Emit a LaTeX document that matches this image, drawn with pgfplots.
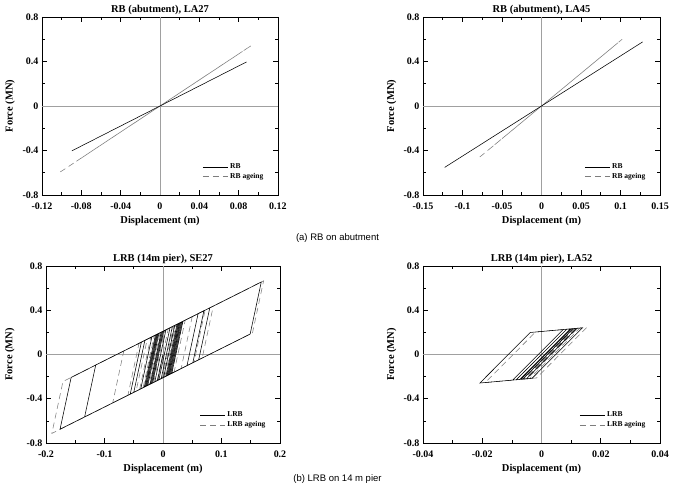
\documentclass[border=0pt]{standalone}
\usepackage{pgfplots}
\pgfplotsset{compat=1.18}
\usepackage{fontspec}
\setmainfont{Liberation Serif}
\newfontfamily\capfont{Liberation Sans}
\definecolor{ageing}{RGB}{125,125,125}
\definecolor{zeroline}{RGB}{160,160,160}

\pgfplotsset{
  base/.style={
    scale only axis,
    anchor=south west,
    axis line style={line width=0.8pt},
    tick align=inside,
    xtick pos=both, ytick pos=both,
    xticklabel pos=bottom, yticklabel pos=left,
    major tick length=5pt, minor tick length=3pt,
    every tick/.style={black, line width=0.6pt},
    minor x tick num=1, minor y tick num=1,
    scaled x ticks=false, scaled y ticks=false,
    ymin=-0.8, ymax=0.8,
    ytick={-0.8,-0.4,0,0.4,0.8},
    yticklabels={-0.8,-0.4,0,0.4,0.8},
    /pgf/number format/assume math mode=true,
    tick label style={font=\bfseries\fontsize{10}{12}\selectfont},
    xticklabel style={yshift=-4pt},
    label style={font=\bfseries\fontsize{10.5}{12}\selectfont},
    xlabel={Displacement (m)},
    ylabel={Force (MN)},
    xlabel style={at={(axis description cs:0.5,-0.145)}, anchor=center},
    title style={at={(axis description cs:0.5,1.05)}, anchor=center, yshift=-8pt, font=\bfseries\fontsize{10.5}{12}\selectfont},
    legend style={draw=none, fill=none, font=\bfseries\fontsize{7.5}{9}\selectfont,
      at={(0.96,0.06)}, anchor=south east, row sep=-1pt},
    legend cell align=left,
    legend image code/.code={\draw[#1] (0pt,0pt) -- (25pt,0pt);},
    clip=true,
  },
  curve/.style={black, line width=0.55pt},
  agecurve/.style={ageing, line width=0.55pt, dash pattern=on 6pt off 4pt},
}

\begin{document}
\begin{tikzpicture}[x=1pt,y=1pt]
\path[use as bounding box] (0,0) rectangle (675,486);

% ---------------- (a) RB, LA27
\begin{axis}[base, at={(42pt,291pt)}, width=236pt, height=178pt,
  xmin=-0.12, xmax=0.12,
  xtick={-0.12,-0.08,-0.04,0,0.04,0.08,0.12},
  xticklabels={-0.12,-0.08,-0.04,0,0.04,0.08,0.12},
  ylabel style={at={(axis description cs:-0.135,0.5)}, anchor=center},
  title={RB (abutment), LA27}]
\addplot[zeroline, line width=0.6pt, forget plot] coordinates {(0,-0.8) (0,0.8)};
\addplot[zeroline, line width=0.6pt, forget plot] coordinates {(-0.12,0) (0.12,0)};
\addlegendimage{curve}\addlegendentry{RB}
\addlegendimage{agecurve}\addlegendentry{RB ageing}
\addplot[agecurve, forget plot] coordinates {(-0.1014,-0.593) (0.093,0.544) (-0.06,-0.351) (0.07,0.410) (-0.085,-0.497) (0.05,0.293) (-0.03,-0.176) (0.08,0.468)};
\addplot[curve, forget plot] coordinates {(-0.0896,-0.403) (0.088,0.396) (-0.05,-0.225) (0.06,0.27)};
\end{axis}

% ---------------- (a) RB, LA45
\begin{axis}[base, at={(423pt,291pt)}, width=237pt, height=178pt,
  xmin=-0.15, xmax=0.15,
  xtick={-0.15,-0.1,-0.05,0,0.05,0.1,0.15},
  xticklabels={-0.15,-0.1,-0.05,0,0.05,0.1,0.15},
  ylabel style={at={(axis description cs:-0.132,0.5)}, anchor=center},
  title={RB (abutment), LA45}]
\addplot[zeroline, line width=0.6pt, forget plot] coordinates {(0,-0.8) (0,0.8)};
\addplot[zeroline, line width=0.6pt, forget plot] coordinates {(-0.15,0) (0.15,0)};
\addlegendimage{curve}\addlegendentry{RB}
\addlegendimage{agecurve}\addlegendentry{RB ageing}
\addplot[agecurve, forget plot] coordinates {(-0.078,-0.458) (0.102,0.599) (-0.05,-0.294) (0.07,0.411) (-0.065,-0.382) (0.09,0.528) (-0.03,-0.176) (0.06,0.352)};
\addplot[curve, forget plot] coordinates {(-0.1226,-0.552) (0.128,0.576) (-0.07,-0.315) (0.09,0.405)};
\end{axis}

% ---------------- (b) LRB, SE27
\begin{axis}[base, at={(46pt,43pt)}, width=234pt, height=177pt,
  xmin=-0.2, xmax=0.2,
  xtick={-0.2,-0.1,0,0.1,0.2},
  xticklabels={-0.2,-0.1,0,0.1,0.2},
  ylabel style={at={(axis description cs:-0.154,0.5)}, anchor=center},
  title={LRB (14m pier), SE27}]
\addplot[zeroline, line width=0.6pt, forget plot] coordinates {(0,-0.8) (0,0.8)};
\addplot[zeroline, line width=0.6pt, forget plot] coordinates {(-0.2,0) (0.2,0)};
\addlegendimage{curve}\addlegendentry{LRB}
\addlegendimage{agecurve}\addlegendentry{LRB ageing}
\addplot[agecurve, forget plot] coordinates {(0,0) (-0.0094,-0.235) (-0.190,-0.714) (-0.171,-0.244) (0.172,0.666) (0.153,0.196) (-0.086,-0.438) (-0.067,0.032) (0.086,0.438) (0.067,-0.032) (-0.060,-0.369) (-0.041,0.101) (0.072,0.401) (0.053,-0.069) (-0.046,-0.332) (-0.027,0.138) (0.050,0.343) (0.031,-0.127) (-0.040,-0.316) (-0.021,0.154) (0.038,0.311) (0.019,-0.159) (-0.034,-0.300) (-0.015,0.170) (0.030,0.290) (0.011,-0.180) (-0.028,-0.284) (-0.009,0.186) (0.034,0.300) (0.015,-0.170) (-0.022,-0.268) (-0.003,0.202) (0.026,0.279) (0.007,-0.191) (-0.030,-0.290) (-0.011,0.180) (0.022,0.268) (0.003,-0.202) (-0.016,-0.252) (0.003,0.217) (0.028,0.284) (0.009,-0.186) (-0.024,-0.274) (-0.005,0.196) (0.018,0.258) (-0.001,-0.212) (-0.010,-0.237) (0.009,0.233) (0.020,0.263) (0.001,-0.207) (-0.018,-0.258) (0.001,0.212) (0.016,0.252)};
\addplot[curve, forget plot] coordinates {(0,0) (-0.0094,-0.235) (-0.176,-0.676) (-0.157,-0.207) (0.168,0.655) (0.149,0.185) (-0.134,-0.565) (-0.115,-0.095) (0.080,0.422) (0.061,-0.048) (-0.056,-0.358) (-0.037,0.111) (0.070,0.396) (0.051,-0.074) (-0.050,-0.343) (-0.031,0.127) (0.060,0.369) (0.041,-0.101) (-0.038,-0.311) (-0.019,0.159) (0.034,0.300) (0.015,-0.170) (-0.030,-0.290) (-0.011,0.180) (0.028,0.284) (0.009,-0.186) (-0.026,-0.279) (-0.007,0.191) (0.032,0.295) (0.013,-0.175) (-0.032,-0.295) (-0.013,0.175) (0.024,0.274) (0.005,-0.196) (-0.022,-0.268) (-0.003,0.202) (0.030,0.290) (0.011,-0.180) (-0.018,-0.258) (0.001,0.212) (0.020,0.263) (0.001,-0.207) (-0.028,-0.284) (-0.009,0.186) (0.026,0.279) (0.007,-0.191) (-0.014,-0.247) (0.005,0.223) (0.016,0.252) (-0.003,-0.217) (-0.020,-0.263) (-0.001,0.207) (0.012,0.242) (-0.007,-0.228)};
\end{axis}

% ---------------- (b) LRB, LA52
\begin{axis}[base, at={(423pt,43pt)}, width=237pt, height=177pt,
  xmin=-0.04, xmax=0.04,
  xtick={-0.04,-0.02,0,0.02,0.04},
  xticklabels={-0.04,-0.02,0,0.02,0.04},
  ylabel style={at={(axis description cs:-0.132,0.5)}, anchor=center},
  title={LRB (14m pier), LA52}]
\addplot[zeroline, line width=0.6pt, forget plot] coordinates {(0,-0.8) (0,0.8)};
\addplot[zeroline, line width=0.6pt, forget plot] coordinates {(-0.04,0) (0.04,0)};
\addlegendimage{curve}\addlegendentry{LRB}
\addlegendimage{agecurve}\addlegendentry{LRB ageing}
\addplot[agecurve, forget plot] coordinates {(0,0) (-0.0085,-0.2284) (-0.0190,-0.2536) (-0.0020,0.2032) (0.0153,0.2447) (-0.0017,-0.2121) (-0.0060,-0.2224) (0.0110,0.2344) (0.0130,0.2392) (-0.0040,-0.2176) (-0.0052,-0.2205) (0.0118,0.2363) (0.0122,0.2373) (-0.0048,-0.2195) (-0.0065,-0.2236) (0.0105,0.2332) (0.0115,0.2356) (-0.0055,-0.2212)};
\addplot[curve, forget plot] coordinates {(0,0) (-0.0085,-0.2284) (-0.0208,-0.2579) (-0.0038,0.1989) (0.0138,0.2411) (-0.0032,-0.2157) (-0.0097,-0.2313) (0.0073,0.2255) (0.0119,0.2366) (-0.0051,-0.2202) (-0.0073,-0.2255) (0.0097,0.2313) (0.0107,0.2337) (-0.0063,-0.2231) (-0.0085,-0.2284) (0.0085,0.2284) (0.0100,0.2320) (-0.0070,-0.2248)};
\end{axis}

\node[font=\capfont\fontsize{9.5}{11}\selectfont] at (337.5,248) {(a) RB on abutment};
\node[font=\capfont\fontsize{9.5}{11}\selectfont] at (337.5,7) {(b) LRB on 14 m pier};
\end{tikzpicture}
\end{document}
